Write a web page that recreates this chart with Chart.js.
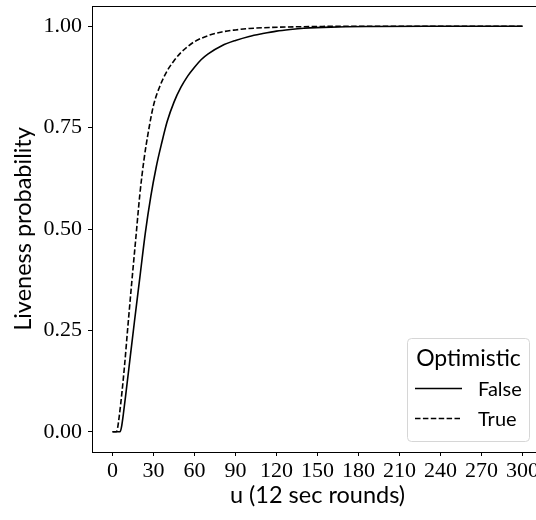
<!DOCTYPE html>
<html>
<head>
<meta charset="utf-8">
<script src="https://cdn.jsdelivr.net/npm/chart.js@4.4.1/dist/chart.umd.min.js"></script>
<style>
  html, body { margin: 0; padding: 0; background: #fff; overflow: hidden; }
  #wrap { width: 536px; height: 520px; overflow: hidden; }
</style>
</head>
<body>
<div id="wrap"><canvas id="livenessChart" width="560" height="520"></canvas></div>
<script>
// values
const falseU = [0, 3, 5.5, 6.5, 8, 10, 13, 16, 20, 24, 28, 32, 36, 40, 45, 50, 55, 60, 65, 70, 80, 90, 100, 110, 120, 130, 140, 160, 190, 230, 300];
const falseP = [0, 0, 0, 0.01, 0.045, 0.1, 0.185, 0.27, 0.38, 0.49, 0.58, 0.653, 0.712, 0.765, 0.813, 0.849, 0.877, 0.899, 0.918, 0.932, 0.952, 0.965, 0.975, 0.982, 0.988, 0.992, 0.995, 0.998, 0.9995, 1.0, 1.0];
const trueU = [0, 2.5, 3.5, 5, 7, 9, 11, 14, 17, 20, 23, 26, 30, 35, 40, 45, 50, 55, 60, 70, 80, 90, 100, 115, 140, 180, 300];
const trueP = [0, 0, 0.005, 0.04, 0.1, 0.17, 0.25, 0.365, 0.475, 0.585, 0.67, 0.735, 0.805, 0.855, 0.89, 0.915, 0.935, 0.95, 0.962, 0.977, 0.986, 0.991, 0.9945, 0.997, 0.999, 1.0, 1.0];
const xTicks = [0, 30, 60, 90, 120, 150, 180, 210, 240, 270, 300];
const yTicks = [0, 0.25, 0.5, 0.75, 1];
const legendTitle = 'Optimistic';

const serif = '"Liberation Serif", "DejaVu Serif", serif';
const sans = 'Lato, "Open Sans", sans-serif';

function toPoints(xs, ys) {
    return xs.map((x, i) => ({ x: x, y: ys[i] }));
}

// legend box drawn in the lower right of the plot, like matplotlib's
const boxLegend = {
    id: 'boxLegend',
    afterDraw(chart) {
        const ctx = chart.ctx;
        const left = 407.5, top = 338.5, w = 122, h = 103, r = 4;
        ctx.save();
        ctx.beginPath();
        ctx.moveTo(left + r, top);
        ctx.arcTo(left + w, top, left + w, top + h, r);
        ctx.arcTo(left + w, top + h, left, top + h, r);
        ctx.arcTo(left, top + h, left, top, r);
        ctx.arcTo(left, top, left + w, top, r);
        ctx.closePath();
        ctx.fillStyle = 'rgba(255,255,255,0.8)';
        ctx.fill();
        ctx.strokeStyle = '#d6d6d6';
        ctx.lineWidth = 1;
        ctx.stroke();

        ctx.fillStyle = '#000';
        ctx.textBaseline = 'alphabetic';
        ctx.textAlign = 'center';
        ctx.font = '23px ' + sans;
        ctx.fillText(legendTitle, left + w / 2, 366);

        ctx.textAlign = 'left';
        ctx.font = '20px ' + sans;
        const rowY = [388.5, 418.5];
        chart.data.datasets.forEach((ds, i) => {
            ctx.beginPath();
            ctx.setLineDash(ds.borderDash || []);
            ctx.lineWidth = ds.borderWidth;
            ctx.strokeStyle = ds.borderColor;
            ctx.moveTo(415, rowY[i]);
            ctx.lineTo(462, rowY[i]);
            ctx.stroke();
            ctx.setLineDash([]);
            ctx.fillText(ds.label, 478, rowY[i] + 7);
        });
        ctx.restore();
    }
};

const ctx = document.getElementById('livenessChart');
new Chart(ctx, {
    type: 'line',
    data: {
        datasets: [
            {
                label: 'False',
                data: toPoints(falseU, falseP),
                borderColor: '#000',
                borderWidth: 1.6,
                pointRadius: 0,
                cubicInterpolationMode: 'monotone',
                fill: false
            },
            {
                label: 'True',
                data: toPoints(trueU, trueP),
                borderColor: '#000',
                borderWidth: 1.6,
                borderDash: [5.5, 2.4],
                pointRadius: 0,
                cubicInterpolationMode: 'monotone',
                fill: false
            }
        ]
    },
    options: {
        responsive: false,
        animation: false,
        layout: { padding: { left: 0, top: 6, right: 17, bottom: 0 } },
        plugins: {
            legend: { display: false },
            tooltip: { enabled: false }
        },
        scales: {
            x: {
                type: 'linear',
                min: -15,
                max: 315,
                afterBuildTicks: (scale) => { scale.ticks = xTicks.map(v => ({ value: v })); },
                afterFit: (scale) => {
                    scale.height = 68;
                    scale.paddingLeft = 0;
                    scale.paddingRight = 0;
                },
                grid: { drawOnChartArea: false, drawTicks: true, tickLength: 4, tickColor: '#000' },
                border: { display: true, color: '#000', width: 1 },
                ticks: {
                    autoSkip: false,
                    maxRotation: 0,
                    padding: 2,
                    color: '#000',
                    font: { family: serif, size: 22 }
                },
                title: {
                    display: true,
                    text: 'u (12 sec rounds)',
                    color: '#000',
                    font: { family: sans, size: 23.5 },
                    padding: { top: 0, bottom: 10 }
                }
            },
            y: {
                min: -0.05,
                max: 1.05,
                afterBuildTicks: (scale) => { scale.ticks = yTicks.map(v => ({ value: v })); },
                afterFit: (scale) => {
                    scale.width = 92;
                    scale.paddingTop = 0;
                    scale.paddingBottom = 0;
                },
                grid: { drawOnChartArea: false, drawTicks: true, tickLength: 4, tickColor: '#000' },
                border: { display: true, color: '#000', width: 1 },
                ticks: {
                    padding: 6,
                    color: '#000',
                    font: { family: serif, size: 22 },
                    callback: (v) => v.toFixed(2)
                },
                title: {
                    display: true,
                    text: 'Liveness probability',
                    color: '#000',
                    font: { family: sans, size: 23.5 },
                    padding: { top: 9, bottom: 0 }
                }
            }
        }
    },
    plugins: [boxLegend, {
        id: 'frame',
        afterDraw(chart) {
            const a = chart.chartArea;
            const c = chart.ctx;
            c.save();
            c.strokeStyle = '#000';
            c.lineWidth = 1;
            c.beginPath();
            c.moveTo(a.left, a.top + 0.5);
            c.lineTo(a.right, a.top + 0.5);
            c.moveTo(a.right - 0.5, a.top);
            c.lineTo(a.right - 0.5, a.bottom);
            c.stroke();
            c.restore();
        }
    }]
});
</script>
</body>
</html>
